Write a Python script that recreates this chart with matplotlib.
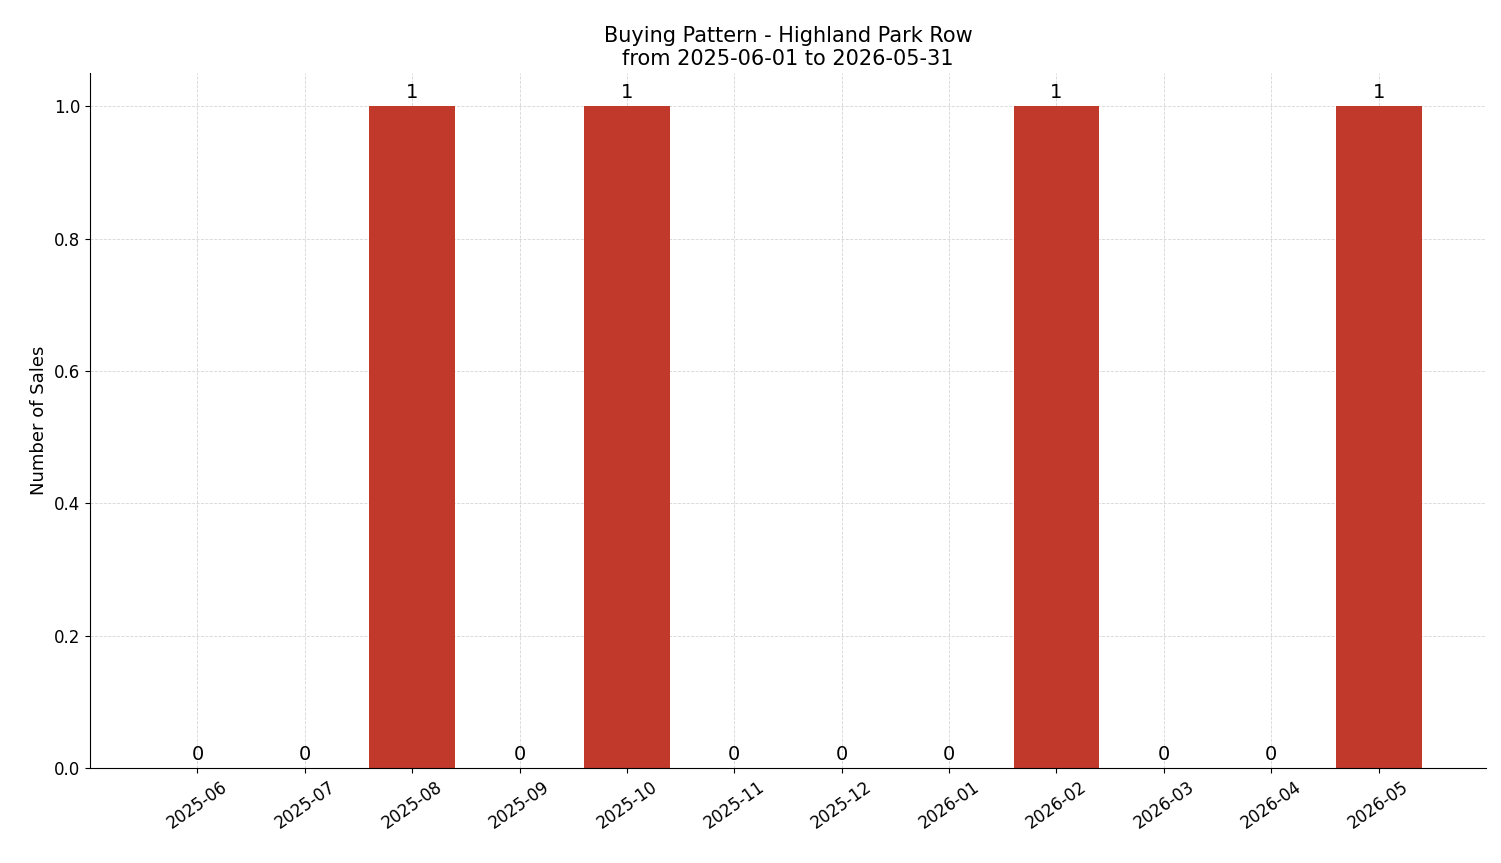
import matplotlib
matplotlib.use("Agg")
import matplotlib.pyplot as plt

months = ["2025-06", "2025-07", "2025-08", "2025-09", "2025-10", "2025-11",
          "2025-12", "2026-01", "2026-02", "2026-03", "2026-04", "2026-05"]
sales = [0, 0, 1, 0, 1, 0, 0, 0, 1, 0, 0, 1]

fig, ax = plt.subplots(figsize=(15.01, 8.63), dpi=100)
x = list(range(len(months)))
bars = ax.bar(x, sales, width=0.8, color="#c0392b", zorder=2)
ax.bar_label(bars, labels=[str(v) for v in sales], padding=3, fontsize=14)

ax.set_xticks(x)
ax.set_xticklabels(months, rotation=35, fontsize=12)
ax.tick_params(axis="y", labelsize=12)
ax.set_xlim(-1, 12)
ax.set_ylim(0, 1.05)
ax.set_ylabel("Number of Sales", fontsize=13)
ax.set_title("Buying Pattern - Highland Park Row\nfrom 2025-06-01 to 2026-05-31", fontsize=15)
ax.grid(True, linestyle="--", linewidth=0.6, color="#cccccc", alpha=0.8, zorder=0)
ax.spines["top"].set_visible(False)
ax.spines["right"].set_visible(False)

fig.subplots_adjust(left=0.06, right=0.99, top=0.915, bottom=0.11)
fig.savefig("out.png", dpi=100)
